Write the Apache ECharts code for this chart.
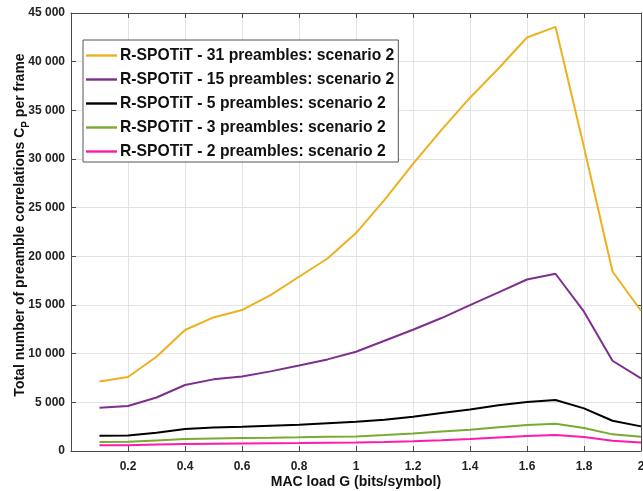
<!DOCTYPE html>
<html>
<head>
<meta charset="utf-8">
<script src="https://cdn.jsdelivr.net/npm/echarts@6/dist/echarts.min.js"></script>
<style>
  html, body { margin: 0; padding: 0; background: #fff; }
  #chart { width: 643px; height: 491px; }
</style>
</head>
<body>
<div id="chart"></div>
<script>
// MAC load G (bits/symbol)
const loads = [0.1, 0.2, 0.3, 0.4, 0.5, 0.6, 0.7, 0.8, 0.9, 1.0, 1.1, 1.2, 1.3, 1.4, 1.5, 1.6, 1.7, 1.8, 1.9, 2.0];

// Total number of preamble correlations per frame
const pre31 = [7150, 7600, 9680, 12430, 13720, 14480, 16020, 17900, 19780, 22390, 25800, 29500, 33000, 36300, 39300, 42480, 43580, 31200, 18440, 14410];
const pre15 = [4450, 4620, 5500, 6780, 7360, 7660, 8180, 8790, 9410, 10200, 11330, 12460, 13660, 14990, 16290, 17620, 18210, 14310, 9270, 7460];
const pre5  = [1570, 1600, 1880, 2260, 2420, 2500, 2600, 2700, 2850, 3010, 3220, 3520, 3900, 4270, 4700, 5030, 5240, 4380, 3110, 2530];
const pre3  = [920, 950, 1090, 1230, 1290, 1330, 1360, 1400, 1460, 1500, 1640, 1810, 2000, 2190, 2430, 2670, 2800, 2360, 1710, 1470];
const pre2  = [580, 600, 660, 720, 750, 780, 800, 820, 850, 880, 930, 990, 1100, 1230, 1380, 1540, 1640, 1440, 1060, 880];

const seriesNames = [
  'R-SPOTiT - 31 preambles: scenario 2',
  'R-SPOTiT - 15 preambles: scenario 2',
  'R-SPOTiT - 5 preambles: scenario 2',
  'R-SPOTiT - 3 preambles: scenario 2',
  'R-SPOTiT - 2 preambles: scenario 2'
];
const seriesColors = ['#EDB120', '#7E2F8E', '#000000', '#77AC30', '#FF1AAA'];
const seriesData = [pre31, pre15, pre5, pre3, pre2];

const xTicks = [0.2, 0.4, 0.6, 0.8, 1, 1.2, 1.4, 1.6, 1.8, 2];

const font = 'Liberation Sans, Arial, sans-serif';
const axisColor = '#4a4a4a';
const gridColor = '#e3e3e3';

function thousands(v) {
  return String(v).replace(/\B(?=(\d{3})+(?!\d))/g, ' ');
}

const chart = echarts.init(document.getElementById('chart'), null, { renderer: 'canvas' });

const option = {
  animation: false,
  backgroundColor: '#ffffff',
  grid: { left: 71, right: 2, top: 13, bottom: 40, containLabel: false, outerBoundsMode: 'none' },
  legend: {
    orient: 'vertical',
    left: 83,
    top: 40,
    padding: [6, 4, 1, 3],
    itemGap: 5,
    itemWidth: 31,
    itemHeight: 14,
    backgroundColor: '#ffffff',
    borderColor: '#555555',
    borderWidth: 1,
    borderRadius: 0,
    textStyle: { fontFamily: font, fontWeight: 'bold', fontSize: 15.7, color: '#111', padding: [0, 0, 0, -2], lineHeight: 19 },
    data: seriesNames.map(n => ({ name: n, icon: 'path://M0,0L31,0L31,2.4L0,2.4Z' }))
  },
  xAxis: [
    {
      type: 'value', min: 0, max: 2, interval: 0.2,
      position: 'bottom',
      name: 'MAC load G (bits/symbol)',
      nameLocation: 'middle', nameGap: 24, nameMoveOverlap: false,
      nameTextStyle: { fontFamily: font, fontWeight: 'bold', fontSize: 14, color: '#111' },
      axisLine: { show: true, lineStyle: { color: axisColor, width: 1 } },
      axisTick: { show: true, inside: true, length: 5, lineStyle: { color: axisColor },
        customValues: xTicks },
      axisLabel: { fontFamily: font, fontWeight: 'bold', fontSize: 12, color: '#222', margin: 10,
        customValues: xTicks, formatter: v => String(+v.toFixed(1)) },
      splitLine: { show: true, lineStyle: { color: gridColor, width: 1 } }
    },
    {
      type: 'value', min: 0, max: 2, interval: 0.2,
      position: 'top',
      axisLine: { show: true, onZero: false, lineStyle: { color: axisColor, width: 1 } },
      axisTick: { show: true, inside: true, length: 5, lineStyle: { color: axisColor } },
      axisLabel: { show: false },
      splitLine: { show: false }
    }
  ],
  yAxis: [
    {
      type: 'value', min: 0, max: 45000, interval: 5000,
      position: 'left',
      name: '{a|Total number of preamble correlations C}{s|P}{a| per frame}',
      nameLocation: 'middle', nameGap: 44, nameRotate: 90, nameMoveOverlap: false,
      nameTextStyle: {
        fontFamily: font, fontWeight: 'bold', fontSize: 14, color: '#111',
        padding: [0, 0, 0, 14],
        rich: {
          a: { fontFamily: font, fontWeight: 'bold', fontSize: 14, color: '#111', verticalAlign: 'bottom' },
          s: { fontFamily: font, fontWeight: 'bold', fontSize: 10, color: '#111', verticalAlign: 'bottom', padding: [0, 0, -4, 0] }
        }
      },
      axisLine: { show: true, lineStyle: { color: axisColor, width: 1 } },
      axisTick: { show: true, inside: true, length: 5, lineStyle: { color: axisColor } },
      axisLabel: { fontFamily: font, fontWeight: 'bold', fontSize: 12, color: '#222', margin: 6,
        formatter: v => thousands(v) },
      splitLine: { show: true, lineStyle: { color: gridColor, width: 1 } }
    },
    {
      type: 'value', min: 0, max: 45000, interval: 5000,
      position: 'right',
      axisLine: { show: true, onZero: false, lineStyle: { color: axisColor, width: 1 } },
      axisTick: { show: true, inside: true, length: 5, lineStyle: { color: axisColor } },
      axisLabel: { show: false },
      splitLine: { show: false }
    }
  ],
  series: seriesNames.map((name, i) => ({
    name: name,
    type: 'line',
    xAxisIndex: 0,
    yAxisIndex: 0,
    symbol: 'none',
    z: 10 - i,
    color: seriesColors[i],
    lineStyle: { color: seriesColors[i], width: 2 },
    data: loads.map((g, k) => [g, seriesData[i][k]])
  }))
};

chart.setOption(option);
</script>
</body>
</html>
